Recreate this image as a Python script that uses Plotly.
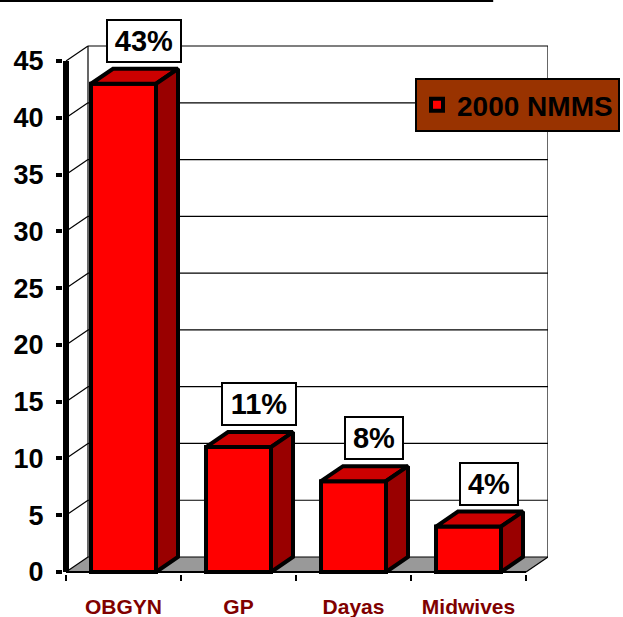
import plotly.graph_objects as go

# ---------------- data ----------------
categories = ["OBGYN", "GP", "Dayas", "Midwives"]
values = [43, 11, 8, 4]
value_labels = ["43%", "11%", "8%", "4%"]
series_name = "2000 NMMS"
y_ticks = [0, 5, 10, 15, 20, 25, 30, 35, 40, 45]

# ---------------- geometry / style ----------------
PX_X = 115.0            # pixels per category slot
PX_Y = 11.355           # pixels per value unit
DX = 22 / PX_X          # depth offset (x, data units)
DY = 15 / PX_Y          # depth offset (y, data units)
BW = 65 / PX_X          # bar width
XL = -0.5
XR = len(categories) - 0.5
YTOP = max(y_ticks)

FRONT = "#FF0000"
TOP = "#CC0000"
SIDE = "#990000"
FLOOR = "#999999"
FONT = "Liberation Sans, Arial, sans-serif"

xpos = list(range(len(categories)))

fig = go.Figure()

# front faces (bars)
fig.add_trace(go.Bar(
    x=xpos, y=values, width=BW, name=series_name,
    marker=dict(color=FRONT, line=dict(color="black", width=4)),
    showlegend=True, hoverinfo="skip"))

# top faces
tx, ty = [], []
for i, v in zip(xpos, values):
    tx += [i - BW / 2, i + BW / 2, i + BW / 2 + DX, i - BW / 2 + DX, i - BW / 2, None]
    ty += [v, v, v + DY, v + DY, v, None]
fig.add_trace(go.Scatter(x=tx, y=ty, mode="lines", fill="toself", fillcolor=TOP,
                         line=dict(color="black", width=4), showlegend=False,
                         hoverinfo="skip"))

# side faces
sx, sy = [], []
for i, v in zip(xpos, values):
    r = i + BW / 2
    sx += [r, r + DX, r + DX, r, r, None]
    sy += [0, DY, v + DY, v, 0, None]
fig.add_trace(go.Scatter(x=sx, y=sy, mode="lines", fill="toself", fillcolor=SIDE,
                         line=dict(color="black", width=4), showlegend=False,
                         hoverinfo="skip"))

# ---------------- walls / floor as shapes ----------------
shapes = []
shapes.append(dict(type="path", xref="x", yref="y", layer="below",
                   path=f"M {XL},0 L {XR},0 L {XR+DX},{DY} L {XL+DX},{DY} Z",
                   fillcolor=FLOOR, line=dict(width=0)))
for v in y_ticks:
    shapes.append(dict(type="line", xref="x", yref="y", layer="below",
                       x0=XL + DX, y0=v + DY, x1=XR + DX, y1=v + DY,
                       line=dict(color="black", width=1.2)))
    shapes.append(dict(type="line", xref="x", yref="y", layer="below",
                       x0=XL, y0=v, x1=XL + DX, y1=v + DY,
                       line=dict(color="black", width=1.2)))
for xe in (XL + DX, XR + DX):
    shapes.append(dict(type="line", xref="x", yref="y", layer="below",
                       x0=xe, y0=DY, x1=xe, y1=YTOP + DY,
                       line=dict(color="black", width=1.2)))
shapes.append(dict(type="line", xref="x", yref="y", layer="below",
                   x0=XR, y0=0, x1=XR + DX, y1=DY, line=dict(color="black", width=1.2)))
shapes.append(dict(type="line", xref="x", yref="y", layer="below",
                   x0=XL, y0=0, x1=XR, y1=0, line=dict(color="black", width=2)))
# thick value axis
shapes.append(dict(type="line", xref="x", yref="y", layer="above",
                   x0=XL, y0=0, x1=XL, y1=YTOP, line=dict(color="black", width=6)))
# slide rule at top
shapes.append(dict(type="line", xref="paper", yref="paper",
                   x0=-0.13, y0=1.081, x1=0.887, y1=1.081,
                   line=dict(color="black", width=2)))

# ---------------- value label boxes ----------------
annotations = []
for i, v, t in zip(xpos, values, value_labels):
    annotations.append(dict(
        x=i + DX, y=v + DY, xref="x", yref="y", text=t, showarrow=False,
        xanchor="center", yanchor="bottom", yshift=6, xshift=-2,
        width=16 * len(t) + 16,
        font=dict(family=FONT, size=29, color="black", weight="bold"),
        bgcolor="white", bordercolor="black", borderwidth=2, borderpad=4))

fig.update_layout(
    width=623, height=617,
    margin=dict(l=63, r=75, t=44, b=43, autoexpand=False),
    paper_bgcolor="white", plot_bgcolor="white",
    shapes=shapes, annotations=annotations,
    bargap=0,
    showlegend=True,
    legend=dict(x=0.7258, y=0.9358, xanchor="left", yanchor="top",
                bgcolor="#993300", bordercolor="black", borderwidth=2,
                font=dict(family=FONT, size=28, color="black", weight="bold")),
    xaxis=dict(range=[XL - 3 / PX_X, XR + (548 - 66 - 4 * PX_X) / PX_X],
               automargin=False,
               tickmode="array", tickvals=xpos, ticktext=categories,
               ticks="", showgrid=False, zeroline=False, showline=False,
               tickfont=dict(family=FONT, size=21, color="#800000", weight="bold"),
               ticklabelstandoff=18,
               minor=dict(tickmode="array", tickvals=[k - 0.5 for k in range(len(categories) + 1)],
                          ticks="outside", ticklen=6, tickwidth=2, tickcolor="black",
                          showgrid=False)),
    yaxis=dict(range=[-2 / PX_Y, (572 - 44) / PX_Y], tickmode="array", tickvals=y_ticks,
               automargin=False,
               ticks="outside", ticklen=6, tickwidth=4, tickcolor="black",
               showgrid=False, zeroline=False, showline=False,
               tickfont=dict(family=FONT, size=27, color="black", weight="bold"),
               ticklabelstandoff=7),
)

fig.write_html("out.html",
               config={"displayModeBar": False, "staticPlot": True},
               post_script="document.body.style.margin='0';document.body.style.overflow='hidden';")
